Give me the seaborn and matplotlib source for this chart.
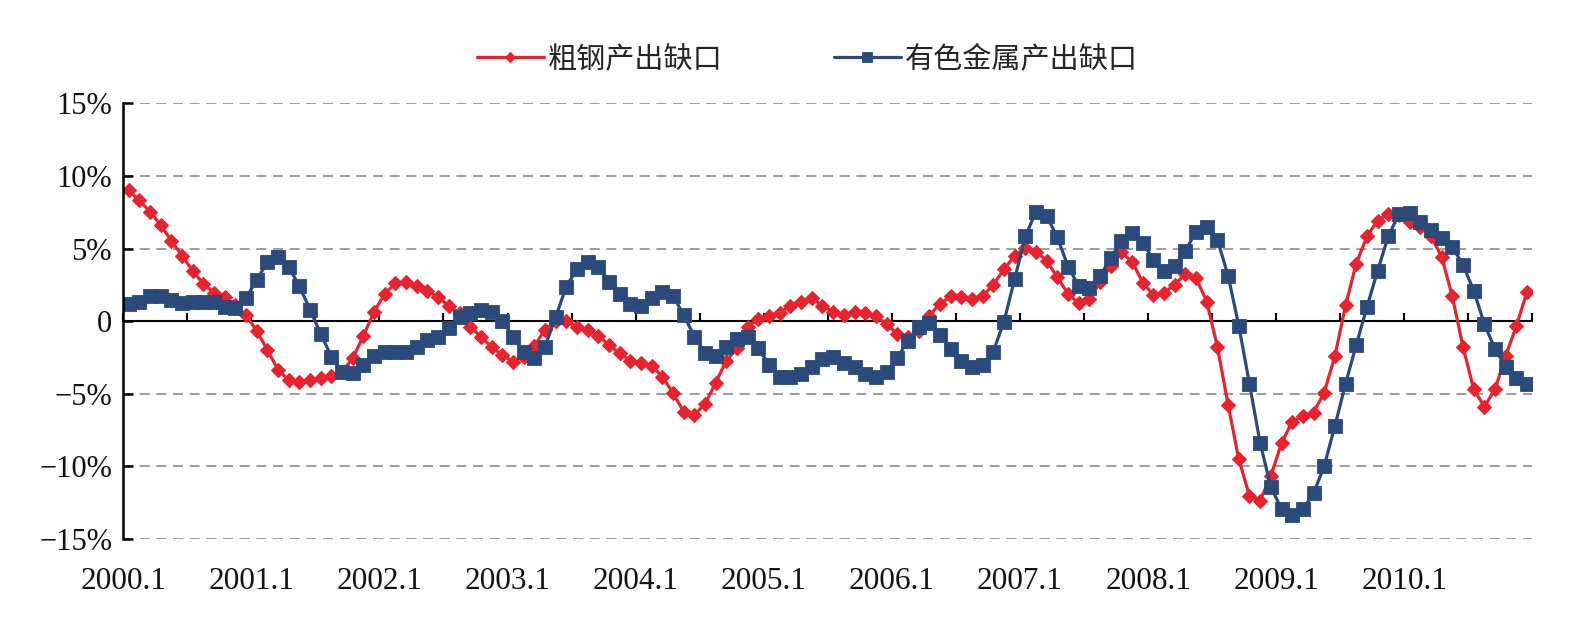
import numpy as np
import seaborn as sns
import matplotlib.pyplot as plt
from matplotlib.ticker import FuncFormatter

# monthly output gap, %, 2000.1 - 2010.12
steel_gap = [9.04, 8.31, 7.55, 6.63, 5.55, 4.52, 3.48, 2.57, 1.97, 1.69, 1.10, 0.41,
             -0.65, -1.98, -3.35, -4.04, -4.20, -4.04, -3.93, -3.77, -3.47, -2.55, -1.01, 0.66,
             1.88, 2.62, 2.73, 2.43, 2.09, 1.65, 1.05, 0.55, -0.37, -1.06, -1.79, -2.32,
             -2.78, -2.44, -1.70, -0.60, -0.02, -0.02, -0.37, -0.60, -1.01, -1.63, -2.20, -2.71,
             -2.85, -3.08, -3.81, -4.96, -6.23, -6.45, -5.70, -4.23, -2.71, -1.86, -0.37, 0.14,
             0.37, 0.59, 1.05, 1.35, 1.58, 1.05, 0.66, 0.43, 0.62, 0.59, 0.37, -0.19,
             -0.87, -1.06, -0.71, 0.37, 1.19, 1.70, 1.65, 1.51, 1.74, 2.50, 3.58, 4.50,
             5.03, 4.79, 4.17, 3.03, 1.88, 1.24, 1.51, 2.68, 3.82, 4.73, 4.10, 2.66,
             1.81, 1.97, 2.50, 3.26, 2.96, 1.35, -1.79, -5.76, -9.51, -12.03, -12.35, -10.65,
             -8.40, -6.91, -6.52, -6.29, -4.91, -2.39, 1.08, 3.97, 5.83, 6.93, 7.39, 7.32,
             6.86, 6.47, 5.87, 4.45, 1.70, -1.75, -4.68, -5.88, -4.68, -2.39, -0.32, 2.04]

nonferrous_gap = [1.19, 1.35, 1.70, 1.70, 1.47, 1.24, 1.35, 1.35, 1.35, 1.01, 0.89, 1.58,
                  2.84, 4.04, 4.41, 3.72, 2.43, 0.78, -0.87, -2.44, -3.47, -3.56, -3.01, -2.39,
                  -2.09, -2.09, -2.09, -1.75, -1.29, -1.06, -0.48, 0.27, 0.59, 0.78, 0.66, 0.04,
                  -1.06, -2.09, -2.55, -1.75, 0.27, 2.38, 3.58, 4.10, 3.70, 2.73, 1.88, 1.19,
                  1.05, 1.58, 2.04, 1.74, 0.43, -1.06, -2.20, -2.39, -1.75, -1.24, -1.06, -1.86,
                  -3.01, -3.81, -3.81, -3.63, -3.17, -2.62, -2.48, -2.85, -3.12, -3.63, -3.81, -3.47,
                  -2.55, -1.33, -0.41, -0.14, -0.94, -1.93, -2.71, -3.17, -3.01, -2.09, -0.03, 2.89,
                  5.83, 7.55, 7.25, 5.78, 3.76, 2.43, 2.27, 3.12, 4.34, 5.55, 6.06, 5.41,
                  4.22, 3.48, 3.81, 4.86, 6.17, 6.47, 5.60, 3.12, -0.32, -4.32, -8.40, -11.39,
                  -12.95, -13.34, -12.95, -11.85, -9.97, -7.21, -4.30, -1.63, 0.96, 3.48, 5.83, 7.39,
                  7.48, 6.86, 6.29, 5.72, 5.10, 3.88, 2.11, -0.19, -1.93, -3.12, -3.93, -4.32]

year_labels = [f'{y}.1' for y in range(2000, 2011)]
series_names = ['粗钢产出缺口', '有色金属产出缺口']

month = np.arange(len(steel_gap))

sns.set_theme(style='white')
plt.rcParams['font.family'] = ['Liberation Serif', 'Noto Sans CJK SC']

fig = plt.figure(figsize=(15.86, 6.21), dpi=100)
ax = fig.add_axes([0.0777, 0.1319, 0.8885, 0.7018])

red = '#e8232d'
blue = '#2a4a7c'
sns.lineplot(x=month, y=steel_gap, ax=ax, color=red, linewidth=2.3, marker='D',
             markersize=7, markeredgecolor=red, markeredgewidth=0.8, label=series_names[0])
sns.lineplot(x=month, y=nonferrous_gap, ax=ax, color=blue, linewidth=2.3, marker='s',
             markersize=9.5, markeredgecolor=blue, markeredgewidth=0.6, label=series_names[1])

ax.set_xlim(-0.5, 131.5)
ax.set_ylim(-15, 15)
ax.set_yticks(range(-15, 16, 5))
ax.yaxis.set_major_formatter(FuncFormatter(
    lambda v, _: '0' if v == 0 else f'{v:.0f}%'.replace('-', '\u2212')))
ax.yaxis.grid(True, linestyle=(0, (6, 4)), color='#8c8c8c', linewidth=1.2)
ax.xaxis.grid(False)

for s in ['top', 'right']:
    ax.spines[s].set_visible(False)
ax.spines['left'].set_color('black')
ax.spines['left'].set_linewidth(1.8)
ax.spines['bottom'].set_position(('data', 0))
ax.spines['bottom'].set_color('black')
ax.spines['bottom'].set_linewidth(1.5)
ax.spines['bottom'].set_zorder(1.5)

ax.set_xticks(np.arange(-0.5, 132, 6))
ax.tick_params(axis='x', direction='in', length=5.5, width=1.5, color='black',
               bottom=True, labelbottom=False)
ax.tick_params(axis='y', direction='in', length=7, width=1.8, color='black',
               left=True, labelsize=22, pad=8, labelcolor='#111111')
ax.set_xlabel('')
ax.set_ylabel('')

sec = ax.secondary_xaxis('bottom')
sec.set_xticks(np.arange(-0.5, 121, 12), labels=year_labels)
sec.tick_params(length=0, labelsize=22.5, pad=20, labelcolor='#111111')
sec.spines['bottom'].set_visible(False)

h, l = ax.get_legend_handles_labels()
ax.get_legend().remove()
fig.legend(h, l, loc='center', bbox_to_anchor=(0.509, 0.905), ncol=2, frameon=False,
           prop={'family': 'Noto Sans CJK SC', 'size': 21}, handlelength=2.3,
           handletextpad=0.15, columnspacing=3.8, markerscale=0.75)

fig.savefig('out.png', dpi=100)
